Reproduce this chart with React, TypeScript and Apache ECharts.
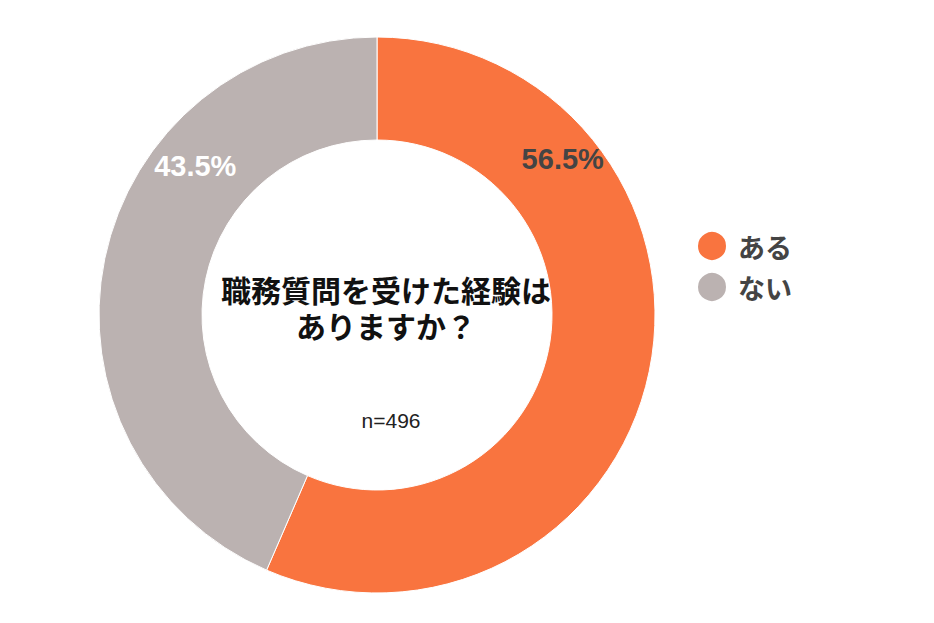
import React, { useEffect, useRef } from "react";
import * as echarts from "echarts";

const categories = ["ある", "ない"];
const values = [56.5, 43.5];
const colors = ["#F9743F", "#BBB2B1"];
const labelColors = ["#444444", "#FFFFFF"];
const labelOffsets: [number, number][] = [[-39, -203], [43, -102]];
const titleLines = ["職務質問を受けた経験は", "ありますか？"];
const sampleText = "n=496";

export default function App() {
  const ref = useRef<HTMLDivElement>(null);
  useEffect(() => {
    if (!ref.current) return;
    const chart = echarts.init(ref.current, null, { renderer: "svg" });
    chart.setOption({
      animation: false,
      backgroundColor: "#FFFFFF",
      legend: {
        orient: "vertical",
        left: 691,
        top: 225,
        icon: "circle",
        itemWidth: 30,
        itemHeight: 30,
        itemGap: 9,
        data: categories,
        textStyle: {
          fontFamily: "Noto Sans CJK JP",
          fontWeight: "bold",
          fontSize: 27,
          lineHeight: 30,
          color: "#444444",
          padding: [0, 0, 0, 6],
        },
      },
      graphic: [
        {
          type: "text",
          x: 386,
          y: 307,
          style: {
            text: titleLines.join("\n"),
            fontFamily: "Noto Sans CJK JP",
            fontWeight: "bold",
            fontSize: 30,
            lineHeight: 36,
            fill: "#111111",
            align: "center",
            verticalAlign: "middle",
          },
        },
        {
          type: "text",
          x: 391,
          y: 420,
          style: {
            text: sampleText,
            fontFamily: "Liberation Sans",
            fontSize: 21,
            fill: "#222222",
            align: "center",
            verticalAlign: "middle",
          },
        },
      ],
      series: [
        {
          type: "pie",
          center: [377, 315],
          radius: [175, 278],
          startAngle: 90,
          clockwise: true,
          avoidLabelOverlap: false,
          itemStyle: { borderColor: "#FFFFFF", borderWidth: 1 },
          label: {
            show: true,
            position: "inside",
            fontFamily: "Liberation Sans",
            fontWeight: "bold",
            fontSize: 29,
            formatter: (p: any) => p.value.toFixed(1) + "%",
          },
          labelLine: { show: false },
          emphasis: { disabled: true },
          data: categories.map((name, i) => ({
            name,
            value: values[i],
            itemStyle: { color: colors[i] },
            label: { color: labelColors[i], offset: labelOffsets[i] },
          })),
        },
      ],
    });
    return () => chart.dispose();
  }, []);
  return (
    <div
      ref={ref}
      style={{ position: "absolute", left: 0, top: 0, width: 934, height: 623 }}
    />
  );
}
